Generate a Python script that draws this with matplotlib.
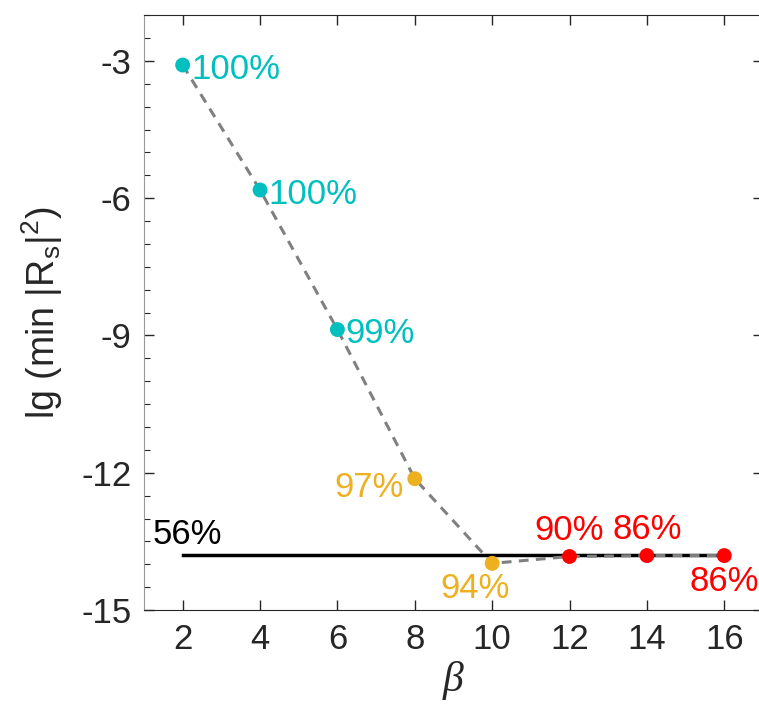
import matplotlib
matplotlib.use("Agg")
import matplotlib.pyplot as plt
from matplotlib.ticker import MultipleLocator

plt.rcParams['font.family'] = ['Liberation Sans', 'DejaVu Sans']
plt.rcParams['mathtext.default'] = 'regular'
plt.rcParams['axes.unicode_minus'] = False

# minimum reflection (log10) versus beta, with the success rate at each point
beta = [2, 4, 6, 8, 10, 12, 14, 16]
lg_min_r = [-3.09, -5.82, -8.87, -12.13, -13.98, -13.83, -13.81, -13.81]
rate = ['100%', '100%', '99%', '97%', '94%', '90%', '86%', '86%']
ref_level = -13.8
ref_rate = '56%'

CYAN = '#00BFBF'
ORANGE = '#EDB120'
RED = '#FF0000'
point_colors = [CYAN, CYAN, CYAN, ORANGE, ORANGE, RED, RED, RED]

# label placement: (dx, dy) in points, ha, va
label_pos = [
    (6, -3, 'left', 'center'),
    (6, -3, 'left', 'center'),
    (6, -3, 'left', 'center'),
    (-8, -6, 'right', 'center'),
    (-12, -6, 'center', 'top'),
    (0, 7, 'center', 'bottom'),
    (0, 7, 'center', 'bottom'),
    (0, -7, 'center', 'top'),
]

fig = plt.figure(figsize=(7.59, 7.09), dpi=100)
ax = fig.add_axes([0.1897, 0.1396, 0.8155, 0.839])

ax.plot([beta[0], beta[-1]], [ref_level, ref_level], color='black', lw=2.5, zorder=2)
ax.plot(beta, lg_min_r, color='#808080', lw=2.2, ls=(0, (3.2, 2.4)), zorder=3)
ax.scatter(beta, lg_min_r, s=115, c=point_colors, zorder=4, linewidths=0)

for x, y, txt, col, (dx, dy, ha, va) in zip(beta, lg_min_r, rate, point_colors, label_pos):
    ax.annotate(txt, (x, y), xytext=(dx, dy), textcoords='offset points',
                ha=ha, va=va, color=col, fontsize=25)
ax.annotate(ref_rate, (beta[0], ref_level), xytext=(-22, 3), textcoords='offset points',
            ha='left', va='bottom', color='black', fontsize=25)

ax.set_xlim(1, 17)
ax.set_ylim(-15, -2)
ax.set_xticks(beta)
ax.set_yticks([-15, -12, -9, -6, -3])
ax.yaxis.set_minor_locator(MultipleLocator(0.5))

ax.tick_params(which='both', direction='in', colors='#262626', labelsize=25,
               top=True, right=True, pad=9)
ax.tick_params(which='major', length=7, width=1)
ax.tick_params(which='minor', length=4, width=0.8, right=False)
for side in ['top', 'right', 'bottom']:
    ax.spines[side].set_color('#262626')
ax.spines['left'].set_color('#999999')

ax.set_xlabel('β', fontsize=30, family='Liberation Serif', style='italic', color='#262626', labelpad=4)
ax.set_ylabel('lg (min |R$_s$|$^2$)', fontsize=27, color='#262626', labelpad=12)

fig.savefig('out.png', dpi=100)
